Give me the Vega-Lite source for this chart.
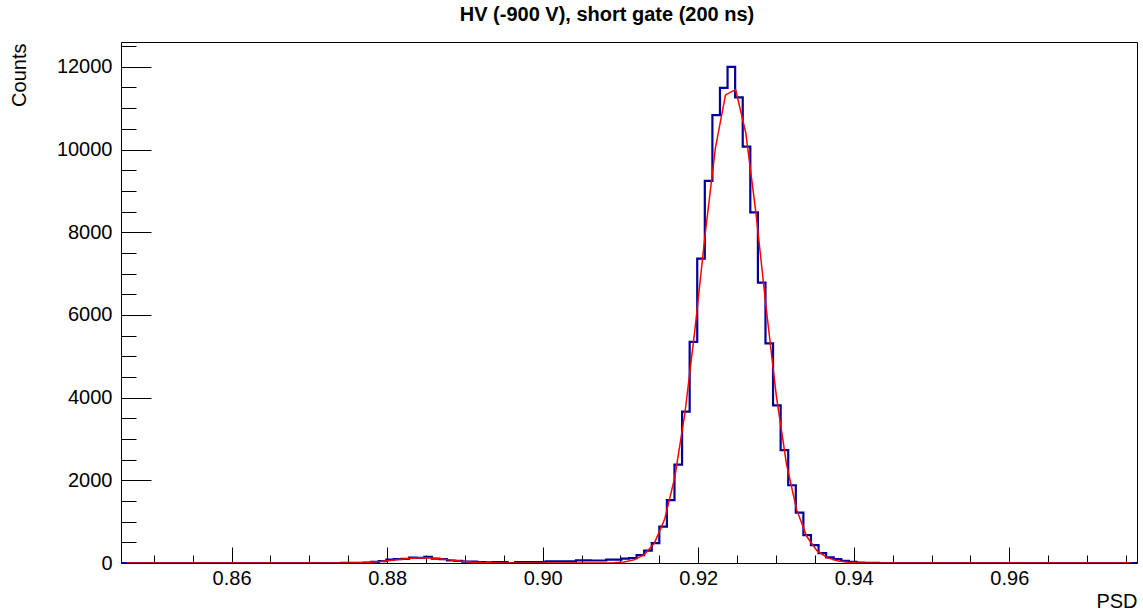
{
  "$schema": "https://vega.github.io/schema/vega-lite/v6.json",
  "width": 1016,
  "height": 521,
  "autosize": {"type": "none"},
  "padding": {"left": 121, "top": 42, "right": 6, "bottom": 52},
  "background": "white",
  "title": {"text": "HV (-900 V), short gate (200 ns)", "fontSize": 20, "fontWeight": "bold", "font": "Liberation Sans", "color": "#000", "anchor": "middle", "dx": -22, "offset": 1, "baseline": "alphabetic"},
  "config": {"font": "Liberation Sans", "view": {"stroke": "#000", "strokeWidth": 1}},
  "datasets": {
    "hist": [
      {"psd":0.845780,"counts":0},{"psd":0.846755,"counts":0},{"psd":0.847730,"counts":0},{"psd":0.848705,"counts":0},{"psd":0.849680,"counts":0},
      {"psd":0.850655,"counts":0},{"psd":0.851629,"counts":0},{"psd":0.852604,"counts":0},{"psd":0.853579,"counts":0},{"psd":0.854554,"counts":0},
      {"psd":0.855529,"counts":0},{"psd":0.856504,"counts":0},{"psd":0.857479,"counts":0},{"psd":0.858454,"counts":0},{"psd":0.859429,"counts":0},
      {"psd":0.860404,"counts":0},{"psd":0.861378,"counts":0},{"psd":0.862353,"counts":0},{"psd":0.863328,"counts":0},{"psd":0.864303,"counts":0},
      {"psd":0.865278,"counts":0},{"psd":0.866253,"counts":0},{"psd":0.867228,"counts":0},{"psd":0.868203,"counts":0},{"psd":0.869178,"counts":0},
      {"psd":0.870153,"counts":0},{"psd":0.871127,"counts":0},{"psd":0.872102,"counts":0},{"psd":0.873077,"counts":0},{"psd":0.874052,"counts":2},
      {"psd":0.875027,"counts":5},{"psd":0.876002,"counts":5},{"psd":0.876977,"counts":10},{"psd":0.877952,"counts":25},{"psd":0.878927,"counts":45},
      {"psd":0.879902,"counts":80},{"psd":0.880876,"counts":95},{"psd":0.881851,"counts":100},{"psd":0.882826,"counts":130},{"psd":0.883801,"counts":125},
      {"psd":0.884776,"counts":150},{"psd":0.885751,"counts":105},{"psd":0.886726,"counts":95},{"psd":0.887701,"counts":60},{"psd":0.888676,"counts":50},
      {"psd":0.889651,"counts":35},{"psd":0.890625,"counts":35},{"psd":0.891600,"counts":20},{"psd":0.892575,"counts":15},{"psd":0.893550,"counts":20},
      {"psd":0.894525,"counts":20},{"psd":0.895500,"counts":0},{"psd":0.896475,"counts":20},{"psd":0.897450,"counts":20},{"psd":0.898425,"counts":20},
      {"psd":0.899400,"counts":20},{"psd":0.900374,"counts":40},{"psd":0.901349,"counts":40},{"psd":0.902324,"counts":40},{"psd":0.903299,"counts":40},
      {"psd":0.904274,"counts":63},{"psd":0.905249,"counts":63},{"psd":0.906224,"counts":60},{"psd":0.907199,"counts":60},{"psd":0.908174,"counts":80},
      {"psd":0.909149,"counts":80},{"psd":0.910123,"counts":105},{"psd":0.911098,"counts":120},{"psd":0.912073,"counts":190},{"psd":0.913048,"counts":300},
      {"psd":0.914023,"counts":480},{"psd":0.914998,"counts":880},{"psd":0.915973,"counts":1520},{"psd":0.916948,"counts":2380},{"psd":0.917923,"counts":3660},
      {"psd":0.918898,"counts":5350},{"psd":0.919872,"counts":7360},{"psd":0.920847,"counts":9240},{"psd":0.921822,"counts":10830},{"psd":0.922797,"counts":11490},
      {"psd":0.923772,"counts":12000},{"psd":0.924747,"counts":11260},{"psd":0.925722,"counts":10070},{"psd":0.926697,"counts":8480},{"psd":0.927672,"counts":6780},
      {"psd":0.928647,"counts":5310},{"psd":0.929621,"counts":3810},{"psd":0.930596,"counts":2730},{"psd":0.931571,"counts":1880},{"psd":0.932546,"counts":1220},
      {"psd":0.933521,"counts":675},{"psd":0.934496,"counts":430},{"psd":0.935471,"counts":240},{"psd":0.936446,"counts":137},{"psd":0.937421,"counts":96},
      {"psd":0.938396,"counts":55},{"psd":0.939370,"counts":25},{"psd":0.940345,"counts":10},{"psd":0.941320,"counts":5},{"psd":0.942295,"counts":2},
      {"psd":0.943270,"counts":0},{"psd":0.944245,"counts":0},{"psd":0.945220,"counts":0},{"psd":0.946195,"counts":0},{"psd":0.947170,"counts":0},
      {"psd":0.948145,"counts":0},{"psd":0.949119,"counts":0},{"psd":0.950094,"counts":0},{"psd":0.951069,"counts":0},{"psd":0.952044,"counts":0},
      {"psd":0.953019,"counts":0},{"psd":0.953994,"counts":0},{"psd":0.954969,"counts":0},{"psd":0.955944,"counts":0},{"psd":0.956919,"counts":0},
      {"psd":0.957894,"counts":0},{"psd":0.958868,"counts":0},{"psd":0.959843,"counts":0},{"psd":0.960818,"counts":0},{"psd":0.961793,"counts":0},
      {"psd":0.962768,"counts":0},{"psd":0.963743,"counts":0},{"psd":0.964718,"counts":0},{"psd":0.965693,"counts":0},{"psd":0.966668,"counts":0},
      {"psd":0.967643,"counts":0},{"psd":0.968617,"counts":0},{"psd":0.969592,"counts":0},{"psd":0.970567,"counts":0},{"psd":0.971542,"counts":0},
      {"psd":0.972517,"counts":0},{"psd":0.973492,"counts":0},{"psd":0.974467,"counts":0},{"psd":0.975442,"counts":0},{"psd":0.976417,"counts":0}
    ],
    "fit": [
      {"psd":0.846433,"counts":0},{"psd":0.847739,"counts":0},{"psd":0.849046,"counts":0},{"psd":0.850352,"counts":0},{"psd":0.851658,"counts":0},
      {"psd":0.852965,"counts":0},{"psd":0.854271,"counts":0},{"psd":0.855577,"counts":0},{"psd":0.856883,"counts":0},{"psd":0.858190,"counts":0},
      {"psd":0.859496,"counts":0},{"psd":0.860802,"counts":0},{"psd":0.862109,"counts":0},{"psd":0.863415,"counts":0},{"psd":0.864721,"counts":0},
      {"psd":0.866028,"counts":0},{"psd":0.867334,"counts":0},{"psd":0.868640,"counts":0},{"psd":0.869946,"counts":0},{"psd":0.871253,"counts":0},
      {"psd":0.872559,"counts":0.3},{"psd":0.873865,"counts":1},{"psd":0.875172,"counts":3},{"psd":0.876478,"counts":7.5},{"psd":0.877784,"counts":17},
      {"psd":0.879091,"counts":34},{"psd":0.880397,"counts":59},{"psd":0.881703,"counts":88},{"psd":0.883009,"counts":113},{"psd":0.884316,"counts":125},
      {"psd":0.885622,"counts":119},{"psd":0.886928,"counts":98},{"psd":0.888235,"counts":70},{"psd":0.889541,"counts":43},{"psd":0.890847,"counts":22},
      {"psd":0.892154,"counts":10},{"psd":0.893460,"counts":4},{"psd":0.894766,"counts":1.4},{"psd":0.896072,"counts":0.5},{"psd":0.897379,"counts":0},
      {"psd":0.898685,"counts":0},{"psd":0.899991,"counts":0},{"psd":0.901298,"counts":0},{"psd":0.902604,"counts":0},{"psd":0.903910,"counts":0},
      {"psd":0.905217,"counts":0},{"psd":0.906523,"counts":0.5},{"psd":0.907829,"counts":2},{"psd":0.909135,"counts":8},{"psd":0.910442,"counts":25},
      {"psd":0.911748,"counts":75},{"psd":0.913054,"counts":200},{"psd":0.914361,"counts":480},{"psd":0.915667,"counts":1050},{"psd":0.916973,"counts":2060},
      {"psd":0.918280,"counts":3610},{"psd":0.919586,"counts":5660},{"psd":0.920892,"counts":7950},{"psd":0.922198,"counts":10020},{"psd":0.923505,"counts":11320},
      {"psd":0.924811,"counts":11450},{"psd":0.926117,"counts":10400},{"psd":0.927424,"counts":8460},{"psd":0.928730,"counts":6180},{"psd":0.930036,"counts":4050},
      {"psd":0.931343,"counts":2400},{"psd":0.932649,"counts":1290},{"psd":0.933955,"counts":640},{"psd":0.935261,"counts":300},{"psd":0.936568,"counts":130},
      {"psd":0.937874,"counts":55},{"psd":0.939180,"counts":20},{"psd":0.940487,"counts":7},{"psd":0.941793,"counts":2},{"psd":0.943099,"counts":0.5},
      {"psd":0.944406,"counts":0},{"psd":0.945712,"counts":0},{"psd":0.947018,"counts":0},{"psd":0.948324,"counts":0},{"psd":0.949631,"counts":0},
      {"psd":0.950937,"counts":0},{"psd":0.952243,"counts":0},{"psd":0.953550,"counts":0},{"psd":0.954856,"counts":0},{"psd":0.956162,"counts":0},
      {"psd":0.957469,"counts":0},{"psd":0.958775,"counts":0},{"psd":0.960081,"counts":0},{"psd":0.961387,"counts":0},{"psd":0.962694,"counts":0},
      {"psd":0.964000,"counts":0},{"psd":0.965306,"counts":0},{"psd":0.966613,"counts":0},{"psd":0.967919,"counts":0},{"psd":0.969225,"counts":0},
      {"psd":0.970532,"counts":0},{"psd":0.971838,"counts":0},{"psd":0.973144,"counts":0},{"psd":0.974450,"counts":0},{"psd":0.975757,"counts":0}
    ]
  },
  "layer": [
    {
      "data": {"name": "hist"},
      "mark": {"type": "line", "interpolate": "step-after", "color": "#000099", "strokeWidth": 2.2, "clip": true},
      "encoding": {
        "x": {"field": "psd", "type": "quantitative", "scale": {"domain": [0.84578, 0.976417], "nice": false, "zero": false},
          "axis": {"orient": "bottom", "values": [0.86, 0.88, 0.9, 0.92, 0.94, 0.96], "format": ".2f", "grid": false,
            "tickSize": -16, "tickColor": "#000", "tickWidth": 1, "domainColor": "#000", "domainWidth": 1,
            "labelFontSize": 20, "labelColor": "#000", "labelPadding": 21, "labelFlush": false, "labelOverlap": false, "labelFont": "Liberation Sans",
            "title": "PSD", "titleFontSize": 20, "titleFontWeight": "normal", "titleColor": "#000", "titleFont": "Liberation Sans",
            "titleAnchor": "end", "titleAlign": "right", "titleBaseline": "alphabetic", "titleX": 1016, "titleY": 44}},
        "y": {"field": "counts", "type": "quantitative", "scale": {"domain": [0, 12600], "nice": false},
          "axis": {"orient": "left", "values": [0, 2000, 4000, 6000, 8000, 10000, 12000], "format": "d", "grid": false,
            "tickSize": -30, "tickColor": "#000", "tickWidth": 1, "domainColor": "#000", "domainWidth": 1,
            "labelFontSize": 20, "labelColor": "#000", "labelPadding": 39, "labelFlush": false, "labelOverlap": false, "labelFont": "Liberation Sans",
            "title": "Counts", "titleFontSize": 20, "titleFontWeight": "normal", "titleColor": "#000", "titleFont": "Liberation Sans",
            "titleAngle": -90, "titleAnchor": "end", "titleAlign": "right", "titleBaseline": "alphabetic", "titleX": -96, "titleY": 1}}
      }
    },
    {
      "data": {"name": "fit"},
      "mark": {"type": "line", "color": "#ff0000", "strokeWidth": 1.5, "clip": true},
      "encoding": {
        "x": {"field": "psd", "type": "quantitative", "scale": {"domain": [0.84578, 0.976417], "nice": false, "zero": false},
          "axis": {"orient": "bottom", "values": [0.85, 0.855, 0.86, 0.865, 0.87, 0.875, 0.88, 0.885, 0.89, 0.895, 0.9, 0.905, 0.91, 0.915, 0.92, 0.925, 0.93, 0.935, 0.94, 0.945, 0.95, 0.955, 0.96, 0.965, 0.97, 0.975],
            "tickSize": -8, "tickColor": "#000", "tickWidth": 1, "labels": false, "domain": false, "grid": false, "title": null}},
        "y": {"field": "counts", "type": "quantitative", "scale": {"domain": [0, 12600], "nice": false},
          "axis": {"orient": "left", "values": [0, 500, 1000, 1500, 2000, 2500, 3000, 3500, 4000, 4500, 5000, 5500, 6000, 6500, 7000, 7500, 8000, 8500, 9000, 9500, 10000, 10500, 11000, 11500, 12000, 12500],
            "tickSize": -15, "tickColor": "#000", "tickWidth": 1, "labels": false, "domain": false, "grid": false, "title": null}}
      }
    }
  ],
  "resolve": {"axis": {"x": "independent", "y": "independent"}}
}
